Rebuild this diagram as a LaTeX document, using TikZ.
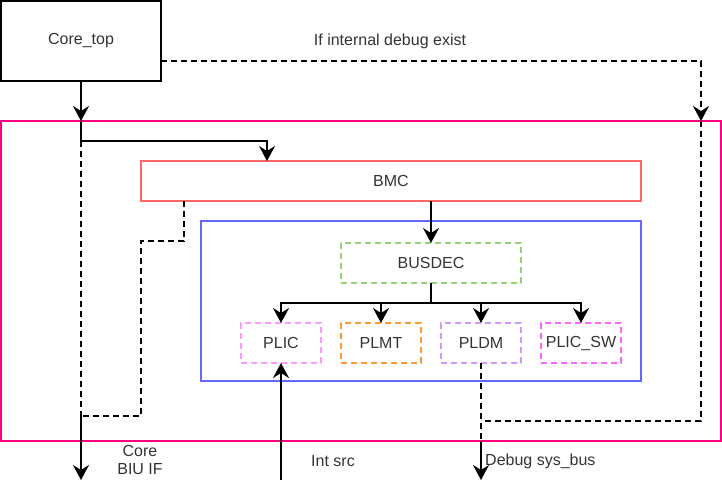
\documentclass[tikz,border=0pt]{standalone}
\usepackage{fontspec}
\setmainfont{Liberation Sans}
\usetikzlibrary{arrows.meta,positioning,calc}
\definecolor{socpink}{HTML}{FF0080}
\definecolor{bmcred}{HTML}{FF6666}
\definecolor{busblue}{HTML}{6666FF}
\definecolor{decgreen}{HTML}{97D077}
\definecolor{plicpink}{HTML}{FF99FF}
\definecolor{plmtorange}{HTML}{FF9933}
\definecolor{pldmpurple}{HTML}{CC99FF}
\definecolor{swmagenta}{HTML}{FF66FF}
\tikzstyle{block}=[rectangle,draw,inner sep=0pt,outer sep=0pt,line width=2pt,text=black!80]
\tikzstyle{unit}=[block,dash pattern=on 6pt off 4pt,minimum width=80pt,minimum height=40pt]
\tikzstyle{wire}=[line width=2pt,draw=black]
\tikzstyle{dbg}=[wire,dash pattern=on 6pt off 4pt]
\tikzstyle{caption}=[inner sep=0pt,text=black!80]

\begin{document}
\begin{tikzpicture}[x=1pt,y=-1pt,->,>={Stealth[length=15pt,width=16pt,inset=5pt]},
  font=\fontsize{16}{18}\selectfont]
  \useasboundingbox (0,0) rectangle (722,498);

  \node[block,line width=2.2pt,minimum width=160pt,minimum height=80pt] (core) at (81,41) {Core\_top};
  \node[block,draw=socpink,minimum width=720pt,minimum height=320pt] (soc) at (361,281) {};
  \node[block,draw=bmcred,minimum width=500pt,minimum height=40pt] (bmc) at (391,181) {BMC};
  \node[block,draw=busblue,minimum width=440pt,minimum height=160pt] (bus) at (421,301) {};
  \node[unit,draw=decgreen,minimum width=180pt] (busdec) at (431,263) {BUSDEC};

  \node[unit,draw=plicpink] (plic) at (281,343) {PLIC};
  \node[unit,draw=plmtorange, right = 20pt of plic] (plmt) {PLMT};
  \node[unit,draw=pldmpurple, right = 20pt of plmt] (pldm) {PLDM};
  \node[unit,draw=swmagenta, right = 20pt of pldm] (plicsw) {PLIC\_SW};

  \coordinate (tap) at (core.south |- soc.north);
  \coordinate (split) at (81,141);
  \coordinate (bmcin) at (267,161);
  \coordinate (bmcout) at (184,201);
  \coordinate (biu) at (81,416);
  \coordinate (biuend) at (81,480);
  \coordinate (fan) at (431,303);
  \coordinate (irq) at (281,480);
  \coordinate (dbgout) at (161,61);
  \coordinate (dbgin) at (701,121);
  \coordinate (dbgjoin) at (481,421);
  \coordinate (dbgexit) at (481,441);
  \coordinate (dbgend) at (481,480);

  % core side
  \draw[wire] (core.south) -- (tap);
  \draw[wire,-] (tap) -- (split);
  \draw[wire] (split) -| (bmcin);
  \draw[dbg,-] (split) -- (biu);
  \draw[dbg,-] (bmcout) -- ++(0,40) -| (141,416) -- (biu);
  \draw[wire] (biu) -- (biuend);

  % bus decoding
  \draw[wire] (busdec.north |- bmc.south) -- (busdec.north);
  \draw[wire,-] (busdec.south) -- (fan);
  \foreach \dev in {plic,plmt,pldm,plicsw}
    \draw[wire] (fan) -| (\dev.north);
  \draw[wire] (irq) -- (plic.south);

  % debug path
  \draw[dbg] (dbgout) -| (dbgin);
  \draw[dbg,-] (dbgin) |- (dbgjoin);
  \draw[dbg,-] (pldm.south) -- (dbgexit);
  \draw[wire] (dbgexit) -- (dbgend);

  \node[caption] (dbglabel) at (390,41) {If internal debug exist};
  \node[caption,align=center] (biulabel) at (140,460) {Core\\BIU IF};
  \node[caption] (irqlabel) at (333,461) {Int src};
  \node[caption,anchor=west] (buslabel) at (485,461) {Debug sys\_bus};
\end{tikzpicture}
\end{document}
